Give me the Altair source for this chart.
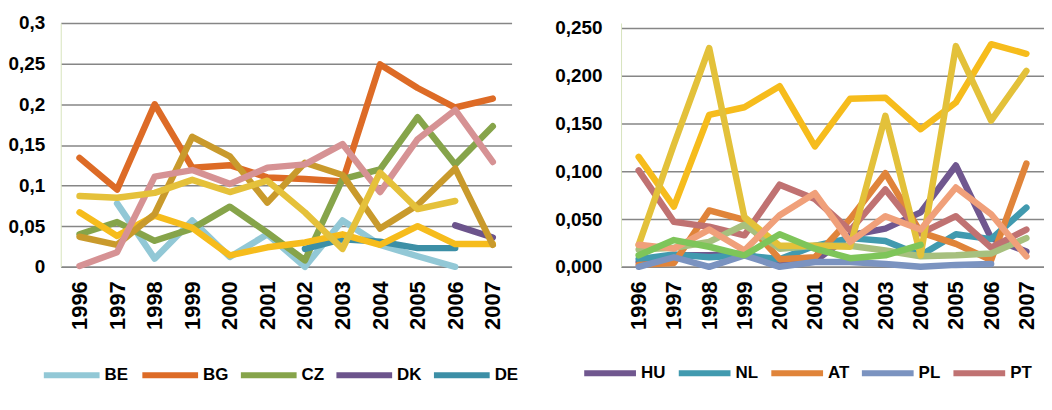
import altair as alt
import pandas as pd

years = [str(y) for y in range(1996, 2008)]

# ---- left panel series ----
left_names = ["BE", "BG", "CZ", "DK", "DE", "GR", "ES", "FR", "IT"]
left_colors = ["#92C8D6", "#DD6B26", "#86A44A", "#6C548C", "#3C8FA6",
               "#F6BC1C", "#C99A2C", "#D69294", "#E5C13A"]
BE = [None, 0.078, 0.010, 0.057, 0.012, 0.040, 0.000, 0.057, 0.027, 0.013, 0.000, None]
BG = [0.134, 0.095, 0.200, 0.122, 0.125, 0.110, 0.108, 0.105, 0.249, 0.220, 0.196, 0.207]
CZ = [0.040, 0.055, 0.032, 0.047, 0.074, 0.042, 0.008, 0.108, 0.120, 0.184, 0.126, 0.173]
DK = [None, None, None, None, None, None, None, None, None, None, 0.051, 0.036]
DE = [None, None, None, None, None, None, 0.022, 0.034, 0.031, 0.023, 0.023, None]
GR = [0.067, 0.038, 0.063, 0.048, 0.014, 0.024, 0.030, 0.040, 0.027, 0.050, 0.028, 0.028]
ES = [0.037, 0.027, 0.065, 0.160, 0.136, 0.079, 0.128, 0.113, 0.047, 0.076, 0.121, 0.027]
FR = [0.001, 0.018, 0.111, 0.119, 0.102, 0.122, 0.126, 0.151, 0.092, 0.157, 0.193, 0.129]
IT = [0.087, 0.085, 0.091, 0.107, 0.092, 0.106, 0.067, 0.022, 0.116, 0.071, 0.081, None]
left_values = [BE, BG, CZ, DK, DE, GR, ES, FR, IT]

# ---- right panel series ----
right_names = ["HU", "NL", "AT", "PL", "PT", "RO", "SK", "FI", "SE", "UK"]
right_colors = ["#70578F", "#419AAF", "#E0843A", "#7B93C0", "#C07272",
                "#A7C07E", "#F6BC1C", "#E3C13A", "#F0A07A", "#7EC55A"]
HU = [0.005, 0.012, 0.012, 0.014, 0.002, 0.006, 0.033, 0.040, 0.057, 0.106, 0.030, 0.016]
NL = [0.008, 0.013, 0.010, 0.012, 0.008, 0.022, 0.030, 0.027, 0.012, 0.034, 0.029, 0.062]
AT = [0.002, 0.004, 0.059, 0.049, 0.008, 0.010, 0.050, 0.098, 0.036, 0.024, 0.007, 0.108]
PL = [0.000, 0.010, 0.000, 0.012, 0.000, 0.005, 0.005, 0.003, 0.000, 0.002, 0.003, None]
PT = [0.101, 0.047, 0.042, 0.033, 0.086, 0.071, 0.038, 0.081, 0.035, 0.053, 0.020, 0.039]
RO = [0.018, 0.020, 0.026, 0.044, 0.019, 0.022, 0.022, 0.017, 0.011, 0.012, 0.014, 0.030]
SK = [0.115, 0.063, 0.159, 0.167, 0.189, 0.126, 0.176, 0.177, 0.144, 0.172, 0.233, 0.223]
FI = [0.023, 0.128, 0.229, 0.052, 0.022, 0.022, 0.021, 0.158, 0.012, 0.231, 0.153, 0.205]
SE = [0.023, 0.019, 0.039, 0.017, 0.054, 0.077, 0.026, 0.053, 0.039, 0.083, 0.055, 0.011]
UK = [0.012, 0.028, 0.021, 0.012, 0.034, 0.019, 0.009, 0.012, 0.023, None, None, None]
right_values = [HU, NL, AT, PL, PT, RO, SK, FI, SE, UK]


def to_long(names, values):
    rows = []
    for k, (n, vals) in enumerate(zip(names, values)):
        for y, v in zip(years, vals):
            if v is not None:
                rows.append({"year": y, "series": n, "value": v, "ord": k})
    return pd.DataFrame(rows)


FONT = "Liberation Sans"


def panel(df, names, colors, ymax, dom_max, expr, width, height, lx, ly,
          colpad, lpad, symsize):
    ticks = [round(i * 0.05, 2) for i in range(int(round(ymax / 0.05)) + 1)]
    return alt.Chart(df).mark_line(
        strokeWidth=6.5, strokeCap="round", strokeJoin="round"
    ).encode(
        x=alt.X("year:O", sort=years, axis=alt.Axis(
            title=None, labelAngle=-90, ticks=False, grid=False,
            domainColor="#868686", domainWidth=1.5, labelPadding=14,
            labelFontSize=22, labelFont=FONT, labelFontWeight="bold",
            labelColor="#000000")),
        y=alt.Y("value:Q", scale=alt.Scale(domain=[0, dom_max], nice=False),
                axis=alt.Axis(
                    title=None, values=ticks, labelExpr=expr, ticks=False,
                    grid=True, gridColor="#868686", gridWidth=1.5,
                    domainColor="#d7e4bd", domainWidth=1, labelPadding=lpad,
                    labelFontSize=19, labelFont=FONT, labelFontWeight="bold",
                    labelColor="#000000")),
        color=alt.Color("series:N", scale=alt.Scale(domain=names, range=colors),
                        legend=alt.Legend(
                            title=None, orient="none", legendX=lx, legendY=ly,
                            direction="horizontal", columns=5,
                            symbolType="stroke", symbolSize=symsize,
                            symbolStrokeWidth=6, labelFontSize=17,
                            labelFont=FONT, labelFontWeight="bold",
                            labelColor="#000000", columnPadding=colpad,
                            rowPadding=14, labelOffset=2, labelLimit=100)),
        order=alt.Order("ord:Q"),
    ).properties(width=width, height=height)


left = panel(to_long(left_names, left_values), left_names, left_colors,
             0.3, 0.3, "replace(format(datum.value, '.2~f'), '.', ',')",
             453, 245, -20, 323, 0, 16, 3136)

right = panel(to_long(right_names, right_values), right_names, right_colors,
              0.25, 0.25 * 245 / 240, "replace(format(datum.value, '.3f'), '.', ',')",
              425, 245, -40, 323, 0, 19, 2704)

chart = alt.hconcat(left, right, spacing=36).resolve_scale(
    color="independent"
).properties(
    padding={"left": 0, "top": 5, "right": 0, "bottom": 0}
).configure_view(stroke=None)

chart.save("out.html", embed_options={"renderer": "svg", "actions": False})
